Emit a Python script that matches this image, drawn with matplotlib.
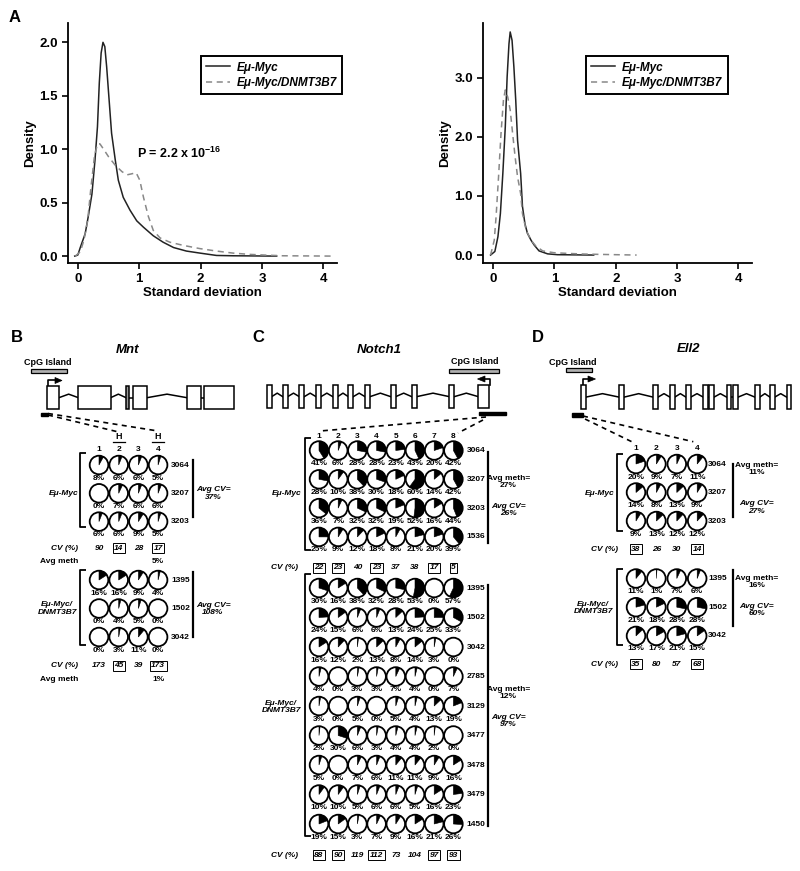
import matplotlib
matplotlib.use('Agg')
import matplotlib.pyplot as plt
from matplotlib.patches import Circle, Wedge, Rectangle, Polygon

plt.rcParams['font.family'] = ['Liberation Sans', 'DejaVu Sans']
plt.rcParams['font.weight'] = 'bold'
plt.rcParams['axes.labelweight'] = 'bold'
plt.rcParams['mathtext.fontset'] = 'custom'
plt.rcParams['mathtext.rm'] = 'Liberation Sans:bold'
plt.rcParams['mathtext.default'] = 'rm'

# ---------------- data: panel A density curves ----------------
a1_myc_x = [-0.05, 0.0, 0.04, 0.12, 0.17, 0.23, 0.28, 0.32, 0.35, 0.38, 0.41, 0.44, 0.47, 0.51, 0.55,
            0.61, 0.66, 0.74, 0.85, 0.96, 1.07, 1.23, 1.39, 1.56, 1.77, 1.99, 2.26, 2.53, 3.24]
a1_myc_y = [0.0, 0.01, 0.08, 0.21, 0.37, 0.58, 0.9, 1.21, 1.62, 1.9, 2.0, 1.96, 1.77, 1.46, 1.15,
            0.9, 0.71, 0.55, 0.43, 0.33, 0.27, 0.19, 0.13, 0.08, 0.047, 0.028, 0.006, 0.003, 0.0]
a1_dn_x = [-0.04, 0.04, 0.1, 0.16, 0.21, 0.27, 0.32, 0.36, 0.42, 0.5, 0.61, 0.72, 0.8, 0.88, 0.95,
           1.01, 1.07, 1.15, 1.23, 1.34, 1.5, 1.72, 1.99, 2.26, 2.53, 2.8, 3.07, 3.34, 4.16]
a1_dn_y = [0.0, 0.04, 0.15, 0.33, 0.62, 0.93, 1.05, 1.05, 1.0, 0.93, 0.85, 0.79, 0.76, 0.77, 0.78,
           0.71, 0.55, 0.37, 0.24, 0.17, 0.13, 0.1, 0.07, 0.047, 0.028, 0.016, 0.009, 0.003, 0.0]
a2_myc_x = [-0.04, 0.03, 0.08, 0.12, 0.16, 0.2, 0.23, 0.26, 0.28, 0.31, 0.34, 0.37, 0.4, 0.45, 0.48,
            0.52, 0.56, 0.62, 0.67, 0.75, 0.89, 1.05, 1.64]
a2_myc_y = [0.0, 0.06, 0.31, 0.7, 1.38, 2.17, 3.01, 3.57, 3.77, 3.63, 3.18, 2.62, 1.94, 1.38, 0.82,
            0.53, 0.37, 0.25, 0.17, 0.07, 0.02, 0.006, 0.0]
a2_dn_x = [-0.04, 0.02, 0.05, 0.09, 0.13, 0.17, 0.2, 0.24, 0.28, 0.32, 0.36, 0.4, 0.45, 0.48, 0.54,
           0.62, 0.7, 0.81, 0.99, 1.21, 1.48, 1.75, 2.01, 2.34]
a2_dn_y = [0.0, 0.25, 0.65, 1.32, 2.05, 2.62, 2.79, 2.67, 2.45, 2.05, 1.66, 1.32, 1.04, 0.7, 0.42,
           0.25, 0.15, 0.07, 0.04, 0.028, 0.017, 0.011, 0.006, 0.0]

# ---------------- data: methylation (%) per sample x CpG site ----------------
b_myc_ids = ['3064', '3207', '3203']
b_myc = [[8, 6, 6, 5], [0, 7, 6, 6], [6, 6, 9, 5]]
b_myc_cv = [90, 14, 28, 17]
b_myc_box = [False, True, False, True]
b_dn_ids = ['1395', '1502', '3042']
b_dn = [[16, 16, 9, 4], [0, 4, 5, 0], [0, 3, 11, 0]]
b_dn_cv = [173, 45, 39, 173]
b_dn_box = [False, True, False, True]

c_myc_ids = ['3064', '3207', '3203', '1536']
c_myc = [[41, 6, 28, 28, 23, 43, 20, 42],
         [28, 10, 38, 30, 18, 60, 14, 42],
         [36, 7, 32, 32, 19, 52, 16, 44],
         [25, 9, 12, 18, 8, 21, 20, 39]]
c_myc_cv = [22, 23, 40, 23, 37, 38, 17, 5]
c_myc_box = [True, True, False, True, False, False, True, True]
c_dn_ids = ['1395', '1502', '3042', '2785', '3129', '3477', '3478', '3479', '1450']
c_dn = [[30, 16, 38, 32, 28, 53, 0, 57],
        [24, 15, 6, 6, 13, 24, 25, 33],
        [16, 12, 2, 13, 8, 14, 3, 0],
        [4, 0, 3, 3, 7, 4, 0, 7],
        [3, 0, 5, 0, 5, 4, 13, 19],
        [2, 30, 6, 3, 4, 4, 2, 0],
        [5, 0, 7, 6, 11, 11, 9, 16],
        [10, 10, 5, 6, 6, 5, 16, 23],
        [19, 15, 3, 7, 9, 16, 21, 26]]
c_dn_cv = [88, 90, 119, 112, 73, 104, 97, 93]
c_dn_box = [True, True, False, True, False, False, True, True]

d_myc_ids = ['3064', '3207', '3203']
d_myc = [[20, 9, 7, 11], [14, 8, 13, 9], [9, 13, 12, 12]]
d_myc_cv = [38, 26, 30, 14]
d_myc_box = [True, False, False, True]
d_dn_ids = ['1395', '1502', '3042']
d_dn = [[11, 1, 7, 6], [21, 18, 28, 28], [13, 17, 21, 15]]
d_dn_cv = [35, 80, 57, 68]
d_dn_box = [True, False, False, True]

FS = 6.0
R = 9.3

fig = plt.figure(figsize=(8, 8.71), dpi=100)

# ============================================================
# Panel A: density plots
# ============================================================
def density_axes(rect, ylim, yticks, mx, my, dx, dy, legend_x):
    ax = fig.add_axes(rect)
    ax.plot(mx, my, '-', color='#222222', lw=1.1, label='Eμ-Myc')
    ax.plot(dx, dy, '--', color='#888888', lw=1.1, dashes=(4, 3), label='Eμ-Myc/DNMT3B7')
    ax.set_xlim(-0.16, 4.22)
    ax.set_ylim(*ylim)
    ax.set_xticks([0, 1, 2, 3, 4])
    ax.set_yticks(yticks)
    ax.set_yticklabels([f'{t:.1f}' for t in yticks])
    for s in ['top', 'right']:
        ax.spines[s].set_visible(False)
    for s in ['left', 'bottom']:
        ax.spines[s].set_linewidth(1.3)
    ax.tick_params(direction='out', length=4, width=1.2, labelsize=9.5)
    ax.set_xlabel('Standard deviation', fontsize=9.5, labelpad=1)
    ax.set_ylabel('Density', fontsize=9.5, labelpad=2)
    leg = ax.legend(loc='upper left', bbox_to_anchor=(legend_x, 0.862), fancybox=False,
                    edgecolor='black', framealpha=1, borderaxespad=0,
                    prop=dict(family='Liberation Sans', weight='bold', style='italic', size=8.5),
                    handlelength=2.0, handletextpad=0.6, borderpad=0.45, labelspacing=0.3)
    leg.get_frame().set_linewidth(1.4)
    return ax

axA1 = density_axes([0.085, 0.698, 0.336, 0.2755], (-0.065, 2.18), [0.0, 0.5, 1.0, 1.5, 2.0],
                    a1_myc_x, a1_myc_y, a1_dn_x, a1_dn_y, 0.494)
axA1.text(0.96, 0.96, 'P = 2.2 x 10$^{-16}$', fontsize=9, ha='left', va='center')
axA2 = density_axes([0.604, 0.698, 0.336, 0.2755], (-0.135, 3.92), [0.0, 1.0, 2.0, 3.0],
                    a2_myc_x, a2_myc_y, a2_dn_x, a2_dn_y, 0.383)
fig.text(15 / 800, 1 - 17 / 871, 'A', fontsize=12, ha='center', va='center')

# ============================================================
# Panels B-D: overlay in pixel coordinates
# ============================================================
ax = fig.add_axes([0, 0, 1, 1])
ax.set_xlim(0, 800)
ax.set_ylim(871, 0)
ax.axis('off')
ax.patch.set_visible(False)


def pie(cx, cy, pct):
    ax.add_patch(Circle((cx, cy), R, fc='white', ec='none', zorder=2))
    if pct > 0:
        ax.add_patch(Wedge((cx, cy), R, -90, -90 + 3.6 * pct, fc='black', ec='black', lw=0.4, zorder=3))
    ax.add_patch(Circle((cx, cy), R, fc='none', ec='black', lw=1.3, zorder=4))


def group(xs, y0, dy, ids, vals, id_x):
    ys = [y0 + i * dy for i in range(len(ids))]
    for i, y in enumerate(ys):
        for j, x in enumerate(xs):
            pie(x, y, vals[i][j])
            ax.text(x, y + 13, f'{vals[i][j]}%', ha='center', va='center', fontsize=FS)
        ax.text(id_x, y, ids[i], ha='left', va='center', fontsize=FS)
    return ys


def bracket(x, y0, y1, tick=6):
    ax.plot([x + tick, x, x, x + tick], [y0, y0, y1, y1], color='black', lw=1.3, solid_capstyle='butt')


def vline(x, y0, y1):
    ax.plot([x, x], [y0, y1], color='black', lw=1.6)


def cv_row(xs, y, cv, box, label_x):
    ax.text(label_x, y, 'CV (%)', ha='right', va='center', fontsize=FS, style='italic')
    for x, v, b in zip(xs, cv, box):
        kw = dict(boxstyle='square,pad=0.18', fc='white', ec='black', lw=0.7) if b else None
        ax.text(x, y, str(v), ha='center', va='center', fontsize=FS, style='italic', bbox=kw)


def two_line(x, y, a, b, italic=False, ha='center'):
    ax.text(x, y, a + '\n' + b, ha=ha, va='center', fontsize=FS, multialignment='center',
            style='italic' if italic else 'normal', linespacing=1.05)


def gene(exons, ytop, ybot, rise=3.5, gray=()):
    ymid = (ytop + ybot) / 2
    for k in range(len(exons) - 1):
        x0, x1 = exons[k][1], exons[k + 1][0]
        if x1 - x0 > 5:
            ax.plot([x0, (x0 + x1) / 2, x1], [ymid, ymid - rise, ymid], color='black', lw=1.1)
        else:
            ax.plot([x0, x1], [ymid, ymid], color='black', lw=1.1)
    for k, (a, b) in enumerate(exons):
        ax.add_patch(Rectangle((a, ytop), b - a, ybot - ytop, fc='#999999' if k in gray else 'white',
                               ec='black', lw=1.1, zorder=3))


def cpg(x0, x1, y0, y1, label_x, label_y):
    ax.add_patch(Rectangle((x0, y0), x1 - x0, y1 - y0, fc='#b0b0b0', ec='black', lw=0.9))
    ax.text(label_x, label_y, 'CpG Island', ha='center', va='center', fontsize=6.5)


def tss(x, ybase, ytop, xhead, xtip):
    ax.plot([x, x, xhead], [ybase, ytop, ytop], color='black', lw=1.2)
    ax.add_patch(Polygon([(xhead, ytop - 3), (xhead, ytop + 3), (xtip, ytop)], closed=True,
                         fc='black', ec='black', lw=0.5))


def dashed(p0, p1):
    ax.plot([p0[0], p1[0]], [p0[1], p1[1]], color='black', lw=1.2, dashes=(3, 2.6))


# ---------------- Panel B: Mnt ----------------
ax.text(17, 337, 'B', fontsize=12, ha='center', va='center')
ax.text(128, 350, 'Mnt', fontsize=9.5, style='italic', ha='center', va='center')
cpg(30.7, 66.7, 369, 373, 48, 362.5)
gene([(46.7, 59), (78.3, 110.7), (126, 129.3), (133.3, 147.3), (186.7, 201), (204.3, 234.3)],
     386, 409.3, gray=(2,))
tss(47.7, 386, 380.5, 55, 62)
ax.add_patch(Rectangle((40.7, 412.7), 7.6, 3.3, fc='black', ec='black'))
dashed((48, 415), (116.5, 431.5))
dashed((48, 413.5), (158, 431))
bx = [99 + j * 19.7 for j in range(4)]
for j, x in enumerate(bx):
    ax.text(x, 449, str(j + 1), ha='center', va='center', fontsize=FS)
for j in (1, 3):
    ax.text(bx[j], 436.5, 'H', ha='center', va='center', fontsize=6.4)
    ax.plot([bx[j] - 6, bx[j] + 6], [441.5, 441.5], color='black', lw=0.9)

group(bx, 465, 28.3, b_myc_ids, b_myc, 171)
bracket(80, 453, 527)
ax.text(78, 493, 'Eμ-Myc', ha='right', va='center', fontsize=FS, style='italic')
vline(192.7, 460, 517)
two_line(213, 493.5, 'Avg CV=', '37%', italic=True)
cv_row(bx, 548, b_myc_cv, b_myc_box, 78)
ax.text(78, 561.7, 'Avg meth', ha='right', va='center', fontsize=FS)
ax.text(bx[3], 561.7, '5%', ha='center', va='center', fontsize=FS)

group(bx, 580, 28.5, b_dn_ids, b_dn, 171)
bracket(80, 570, 645)
two_line(77, 608.5, 'Eμ-Myc/', 'DNMT3B7', italic=True, ha='right')
vline(192.7, 572, 637)
two_line(213, 609, 'Avg CV=', '108%', italic=True)
cv_row(bx, 665.7, b_dn_cv, b_dn_box, 78)
ax.text(78, 679.3, 'Avg meth', ha='right', va='center', fontsize=FS)
ax.text(bx[3], 679.3, '1%', ha='center', va='center', fontsize=FS)

# ---------------- Panel C: Notch1 ----------------
ax.text(258, 337, 'C', fontsize=12, ha='center', va='center')
ax.text(379.3, 350, 'Notch1', fontsize=9.5, style='italic', ha='center', va='center')
cpg(449.3, 499.3, 369, 373, 474.3, 361.7)
c_exons = [(x, x + 5) for x in [266.7, 282.7, 299.3, 316, 332.7, 348.3, 365, 390.7, 411.7, 449.3]]
c_exons.append((478.3, 489))
gene(c_exons, 385, 408.3)
tss(489.5, 385, 379, 485, 477.5)
ax.add_patch(Rectangle((479.3, 411.7), 26.4, 3.6, fc='black', ec='black'))
dashed((486, 417), (320, 431))
dashed((483, 420), (458, 433))
cx = [319 + j * 19.2 for j in range(8)]
for j, x in enumerate(cx):
    ax.text(x, 436, str(j + 1), ha='center', va='center', fontsize=FS)

group(cx, 450.5, 28.8, c_myc_ids, c_myc, 466.7)
bracket(305, 438, 550)
ax.text(301.7, 493.3, 'Eμ-Myc', ha='right', va='center', fontsize=FS, style='italic')
vline(488.3, 451.7, 543)
two_line(508.3, 482, 'Avg meth=', '27%')
two_line(508.3, 510.3, 'Avg CV=', '26%', italic=True)
cv_row(cx, 567.7, c_myc_cv, c_myc_box, 298)

group(cx, 588, 29.5, c_dn_ids, c_dn, 466.7)
bracket(305, 574, 836)
two_line(301, 706.7, 'Eμ-Myc/', 'DNMT3B7', italic=True, ha='right')
vline(488.3, 585, 826)
two_line(508.3, 693.3, 'Avg meth=', '12%')
two_line(508.3, 721.3, 'Avg CV=', '97%', italic=True)
cv_row(cx, 855, c_dn_cv, c_dn_box, 298)

# ---------------- Panel D: Ell2 ----------------
ax.text(538, 337, 'D', fontsize=12, ha='center', va='center')
ax.text(688.3, 349.3, 'Ell2', fontsize=9.5, style='italic', ha='center', va='center')
cpg(566, 592.3, 368.3, 372.3, 572.3, 362.7)
gene([(581, 585.7), (619.3, 624), (653.3, 658), (670, 674.7), (686, 690.7), (703.3, 708),
      (709.3, 714), (726.7, 731.3), (733.3, 738), (755, 759.7), (770, 774.7), (786.7, 791.3)],
     385, 409.3)
tss(583, 385, 379, 588, 595.5)
ax.add_patch(Rectangle((571.7, 413.3), 11.6, 3.4, fc='black', ec='black'))
dashed((583, 416), (693.3, 441.7))
dashed((585, 419), (631.7, 441.7))
dx_ = [636 + j * 20.4 for j in range(4)]
for j, x in enumerate(dx_):
    ax.text(x, 448.3, str(j + 1), ha='center', va='center', fontsize=FS)

group(dx_, 464, 28.5, d_myc_ids, d_myc, 708.3)
bracket(616.7, 454, 531)
ax.text(614, 493, 'Eμ-Myc', ha='right', va='center', fontsize=FS, style='italic')
vline(732.7, 464, 517)
two_line(756.7, 469.3, 'Avg meth=', '11%')
two_line(756.7, 507.5, 'Avg CV=', '27%', italic=True)
cv_row(dx_, 549, d_myc_cv, d_myc_box, 618)

group(dx_, 578.5, 28.7, d_dn_ids, d_dn, 708.3)
bracket(616.7, 569, 645)
two_line(613, 608.3, 'Eμ-Myc/', 'DNMT3B7', italic=True, ha='right')
vline(732.7, 570, 626)
two_line(756.7, 581.7, 'Avg meth=', '16%')
two_line(756.7, 610, 'Avg CV=', '60%', italic=True)
cv_row(dx_, 664, d_dn_cv, d_dn_box, 618)

fig.savefig('out.png', dpi=100)
